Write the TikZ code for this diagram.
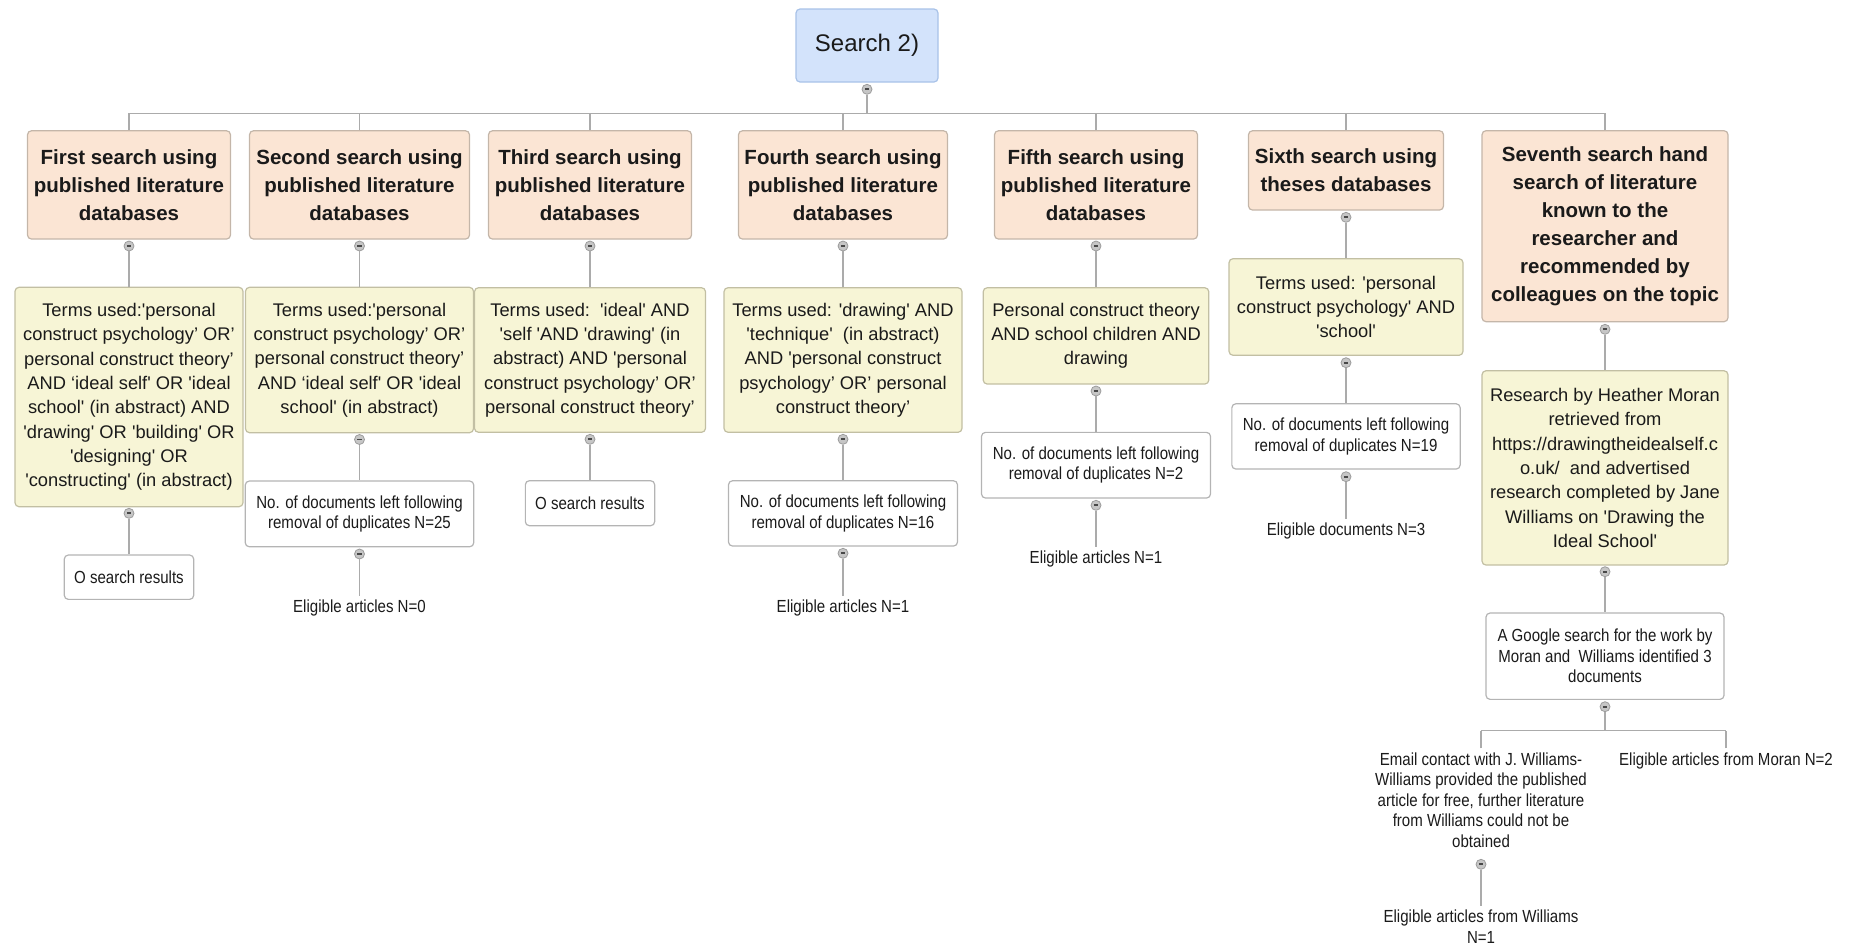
\documentclass[tikz,border=0pt]{standalone}
\usepackage{fontspec}
\setmainfont[Ligatures=TeXOff]{Liberation Sans}
\newfontfamily\narrowfont[FakeStretch=0.86,Ligatures=TeXOff]{Liberation Sans}
\usepackage{xcolor}
\usepackage{tikz}
\definecolor{SRBlue}{HTML}{D3E3FB}
\definecolor{SRBlueLine}{HTML}{A8C2E8}
\definecolor{SRPeach}{HTML}{FBE5D4}
\definecolor{SRPeachLine}{HTML}{C4B6A9}
\definecolor{SRCream}{HTML}{F7F5D6}
\definecolor{SRCreamLine}{HTML}{C2BFA3}
\definecolor{SRBoxLine}{HTML}{B4B4B4}
\definecolor{SRLine}{HTML}{ABABAB}
\definecolor{SRKnob}{HTML}{C6C6C6}
\definecolor{SRKnobLine}{HTML}{9C9C9C}
\definecolor{SRText}{HTML}{1A1A1A}
\newcommand\srroot{\fontsize{24}{29}\selectfont}
\newcommand\srhead{\bfseries\fontsize{20.5}{28}\selectfont}
\newcommand\srterm{\fontsize{18.3}{24.3}\selectfont}
\newcommand\srnote{\narrowfont\fontsize{17.5}{20.5}\selectfont}

\begin{document}
\begin{tikzpicture}[x=1pt,y=-1pt,
  every node/.style={text=SRText},
  rootbox/.style={draw=SRBlueLine,fill=SRBlue,rounded corners=4pt,line width=1.2pt,font=\srroot},
  headbox/.style={draw=SRPeachLine,fill=SRPeach,rounded corners=4pt,line width=1.2pt,align=center,inner sep=3pt,font=\srhead},
  termbox/.style={draw=SRCreamLine,fill=SRCream,rounded corners=4pt,line width=1.2pt,align=center,inner sep=3pt,font=\srterm},
  notebox/.style={draw=SRBoxLine,fill=white,rounded corners=4pt,line width=1.2pt,align=center,inner sep=3pt,font=\srnote},
  notetext/.style={align=center,inner xsep=2pt,inner ysep=4pt,font=\srnote},
  knob/.style={circle,draw=SRKnobLine,fill=SRKnob,line width=0.8pt,minimum size=10pt,inner sep=0pt,
    path picture={\draw[SRText!80,line width=1.8pt] ([xshift=-2.2pt]path picture bounding box.center) -- ([xshift=2.2pt]path picture bounding box.center);}},
  wire/.style={draw=SRLine,line width=1.3pt}]
\path[use as bounding box] (0,0) rectangle (1852,946);
\node[rootbox,minimum width=142,minimum height=73] (root) at (867,45.5) {Search 2)};
\node[knob] (k0) at (867,89.3) {};
\coordinate (bus) at (0,113.3);

\node[headbox,minimum width=203,minimum height=108.3] (h1) at (129,184.9) {First search using\\published literature\\databases};
\node[headbox,minimum width=220,minimum height=108.3] (h2) at (359.5,184.9) {Second search using\\published literature\\databases};
\node[headbox,minimum width=203,minimum height=108.3] (h3) at (590,184.9) {Third search using\\published literature\\databases};
\node[headbox,minimum width=209,minimum height=108.3] (h4) at (843,184.9) {Fourth search using\\published literature\\databases};
\node[headbox,minimum width=203,minimum height=108.3] (h5) at (1096,184.9) {Fifth search using\\published literature\\databases};
\node[headbox,minimum width=195,minimum height=79.3] (h6) at (1346,170.4) {Sixth search using\\theses databases};
\node[headbox,minimum width=246,minimum height=191] (h7) at (1605,226.2) {Seventh search hand\\search of literature\\known to the\\researcher and\\recommended by\\colleagues on the topic};
\node[knob] (k1) at (129,246) {};
\node[knob] (k2) at (359.5,246) {};
\node[knob] (k3) at (590,246) {};
\node[knob] (k4) at (843,246) {};
\node[knob] (k5) at (1096,246) {};
\node[knob] (k6) at (1346,217.3) {};
\node[knob] (k7) at (1605,329.3) {};

\node[termbox,minimum width=228,minimum height=219.4] (t1) at (129,397) {Terms used:'personal\\construct psychology’ OR’\\personal construct theory’\\AND ‘ideal self' OR 'ideal\\school' (in abstract) AND\\'drawing' OR 'building' OR\\'designing' OR\\'constructing' (in abstract)};
\node[termbox,minimum width=228,minimum height=145.4] (t2) at (359.5,360) {Terms used:'personal\\construct psychology’ OR’\\personal construct theory’\\AND ‘ideal self' OR 'ideal\\school' (in abstract)};
\node[termbox,minimum width=231,minimum height=144.6] (t3) at (590,360) {Terms used:\ \ 'ideal' AND\\'self 'AND 'drawing' (in\\abstract) AND 'personal\\construct psychology’ OR’\\personal construct theory’};
\node[termbox,minimum width=238,minimum height=144.6] (t4) at (843,360) {Terms used: 'drawing' AND\\'technique'\ \ (in abstract)\\AND 'personal construct\\psychology’ OR’ personal\\construct theory’};
\node[termbox,minimum width=225.6,minimum height=96.3] (t5) at (1096,335.9) {Personal construct theory\\AND school children AND\\drawing};
\node[termbox,minimum width=234,minimum height=96.6] (t6) at (1346,307) {Terms used: 'personal\\construct psychology' AND\\'school'};
\node[termbox,minimum width=246,minimum height=194.3] (t7) at (1605,467.9) {Research by Heather Moran\\retrieved from\\https://drawingtheidealself.c\\o.uk/\ \ and advertised\\research completed by Jane\\Williams on 'Drawing the\\Ideal School'};
\node[knob] (kt1) at (129,513.3) {};
\node[knob] (kt2) at (359.5,439.5) {};
\node[knob] (kt3) at (590,439.3) {};
\node[knob] (kt4) at (843,439.3) {};
\node[knob] (kt5) at (1096,391) {};
\node[knob] (kt6) at (1346,362.7) {};
\node[knob] (kt7) at (1605,571.7) {};

\node[notebox,minimum width=129.4,minimum height=44.3] (r1) at (129,577.2) {O search results};
\node[notebox,minimum width=228.5,minimum height=65.7] (d2) at (359.5,513.9) {No. of documents left following\\removal of duplicates N=25};
\node[notebox,minimum width=129.3,minimum height=45] (r3) at (590,503.2) {O search results};
\node[notebox,minimum width=229,minimum height=65.3] (d4) at (843,513.4) {No. of documents left following\\removal of duplicates N=16};
\node[notebox,minimum width=229,minimum height=65.7] (d5) at (1096,465.2) {No. of documents left following\\removal of duplicates N=2};
\node[notebox,minimum width=228.3,minimum height=65.3] (d6) at (1346,436.4) {No. of documents left following\\removal of duplicates N=19};
\node[notebox,minimum width=238,minimum height=86.3] (g7) at (1605,656.2) {A Google search for the work by\\Moran and\ \ Williams identified 3\\documents};
\node[knob] (kd2) at (359.5,554) {};
\node[knob] (kd4) at (843,553.3) {};
\node[knob] (kd5) at (1096,505.3) {};
\node[knob] (kd6) at (1346,476.7) {};
\node[knob] (kg7) at (1605,706.7) {};
\coordinate (sub) at (0,730.7);

\node[notetext,anchor=north] (e2) at (359.5,595.5) {Eligible articles N=0};
\node[notetext,anchor=north] (e4) at (843,595.5) {Eligible articles N=1};
\node[notetext,anchor=north] (e5) at (1096,547) {Eligible articles N=1};
\node[notetext,anchor=north] (e6) at (1346,518.5) {Eligible documents N=3};
\node[notetext,anchor=north] (email) at (1481,748.3) {Email contact with J. Williams-\\Williams provided the published\\article for free, further literature\\from Williams could not be\\obtained};
\node[notetext,anchor=north] (moran) at (1726,748.3) {Eligible articles from Moran N=2};
\node[knob] (ke) at (1481,864.3) {};
\node[notetext,anchor=north] (williams) at (1481,906) {Eligible articles from Williams\\N=1};

\draw[wire] (k0) -- (k0 |- bus);
\draw[wire] (h1.north |- bus) -- (h7.north |- bus);
\draw[wire] (h1) -- (h1 |- bus);
\draw[wire] (h2) -- (h2 |- bus);
\draw[wire] (h3) -- (h3 |- bus);
\draw[wire] (h4) -- (h4 |- bus);
\draw[wire] (h5) -- (h5 |- bus);
\draw[wire] (h6) -- (h6 |- bus);
\draw[wire] (h7) -- (h7 |- bus);
\draw[wire] (k1) -- (t1);
\draw[wire] (k2) -- (t2);
\draw[wire] (k3) -- (t3);
\draw[wire] (k4) -- (t4);
\draw[wire] (k5) -- (t5);
\draw[wire] (k6) -- (t6);
\draw[wire] (k7) -- (t7);
\draw[wire] (kt1) -- (r1);
\draw[wire] (kt2) -- (d2);
\draw[wire] (kt3) -- (r3);
\draw[wire] (kt4) -- (d4);
\draw[wire] (kt5) -- (d5);
\draw[wire] (kt6) -- (d6);
\draw[wire] (kt7) -- (g7);
\draw[wire] (kd2) -- (e2);
\draw[wire] (kd4) -- (e4);
\draw[wire] (kd5) -- (e5);
\draw[wire] (kd6) -- (e6);
\draw[wire] (kg7) -- (kg7 |- sub);
\draw[wire] (email.north |- sub) -- (moran.north |- sub);
\draw[wire] (email.north) -- (email.north |- sub);
\draw[wire] (moran.north) -- (moran.north |- sub);
\draw[wire] (ke) -- (williams);
\end{tikzpicture}
\end{document}
